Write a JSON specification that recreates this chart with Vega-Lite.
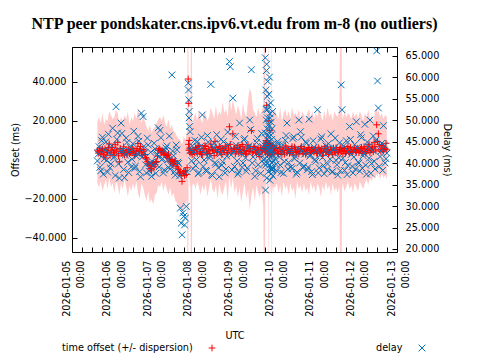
{
"$schema":"https://vega.github.io/schema/vega-lite/v6.json",
"width":325,"height":205,
"autosize":"none",
"padding":{"left":72,"top":47,"right":83,"bottom":108},
"background":"white",
"title":{"text":"NTP peer pondskater.cns.ipv6.vt.edu from m-8 (no outliers)","font":"Liberation Serif","fontSize":16,"fontWeight":"bold","color":"black","anchor":"middle","offset":15},
"config":{
 "view":{"stroke":"black","strokeWidth":1},
 "axis":{"labelFont":"DejaVu Sans","labelFontSize":9.7,"labelColor":"black","titleFont":"DejaVu Sans","titleFontSize":9.7,"titleFontWeight":"normal","titleColor":"black","tickColor":"black","tickSize":-5,"domain":false,"grid":false},
 "legend":{"titleFont":"DejaVu Sans","titleFontSize":9.7,"titleFontWeight":"normal","titleColor":"black","padding":0}
},
"data":{"values":[
{"t":"2026-01-05T15:00","o":5.0,"lo":-12,"hi":20,"d":40.5},
{"t":"2026-01-05T16:00","o":4.2,"lo":-14,"hi":22,"d":43.8},
{"t":"2026-01-05T17:00","o":3.1,"lo":-11,"hi":19,"d":38.2},
{"t":"2026-01-05T18:00","o":5.5,"lo":-16,"hi":24,"d":46.0},
{"t":"2026-01-05T19:00","o":2.0,"lo":-13,"hi":18,"d":41.0},
{"t":"2026-01-05T20:00","o":1.0,"lo":-10,"hi":21,"d":44.9},
{"t":"2026-01-05T21:00","o":3.8,"lo":-15,"hi":20,"d":37.9},
{"t":"2026-01-05T22:00","o":8.2,"lo":-9,"hi":25,"d":42.3},
{"t":"2026-01-05T23:00","o":4.6,"lo":-14,"hi":23,"d":39.8},
{"t":"2026-01-06T00:00","o":6.5,"lo":-12,"hi":21,"d":48.1},
{"t":"2026-01-06T01:00","o":3.0,"lo":-17,"hi":22,"d":41.5},
{"t":"2026-01-06T02:00","o":5.2,"lo":-11,"hi":26,"d":53.1},
{"t":"2026-01-06T03:00","o":9.0,"lo":-13,"hi":24,"d":47.0},
{"t":"2026-01-06T04:00","o":-1.0,"lo":-18,"hi":19,"d":36.5},
{"t":"2026-01-06T05:00","o":4.4,"lo":-12,"hi":22,"d":49.3},
{"t":"2026-01-06T06:00","o":3.9,"lo":-15,"hi":20,"d":43.0},
{"t":"2026-01-06T07:00","o":2.5,"lo":-10,"hi":23,"d":36.6},
{"t":"2026-01-06T08:00","o":4.8,"lo":-14,"hi":21,"d":45.8},
{"t":"2026-01-06T09:00","o":5.1,"lo":-19,"hi":25,"d":40.2},
{"t":"2026-01-06T10:00","o":3.3,"lo":-13,"hi":18,"d":42.7},
{"t":"2026-01-06T11:00","o":4.0,"lo":-16,"hi":22,"d":39.1},
{"t":"2026-01-06T12:00","o":5.6,"lo":-12,"hi":20,"d":44.5},
{"t":"2026-01-06T13:00","o":2.2,"lo":-15,"hi":24,"d":38.8},
{"t":"2026-01-06T14:00","o":4.7,"lo":-11,"hi":21,"d":41.6},
{"t":"2026-01-06T15:00","o":8.4,"lo":-17,"hi":27,"d":46.2},
{"t":"2026-01-06T16:00","o":4.9,"lo":-20,"hi":22,"d":38.0},
{"t":"2026-01-06T17:00","o":3.6,"lo":-12,"hi":19,"d":51.6},
{"t":"2026-01-06T18:00","o":5.3,"lo":-14,"hi":23,"d":50.8},
{"t":"2026-01-06T19:00","o":2.8,"lo":-18,"hi":20,"d":42.4},
{"t":"2026-01-06T20:00","o":0.5,"lo":-21,"hi":17,"d":37.7},
{"t":"2026-01-06T21:00","o":-1.7,"lo":-16,"hi":15,"d":44.2},
{"t":"2026-01-06T22:00","o":-3.0,"lo":-22,"hi":18,"d":40.0},
{"t":"2026-01-06T23:00","o":-5.1,"lo":-20,"hi":14,"d":36.9},
{"t":"2026-01-07T00:00","o":-1.5,"lo":-23,"hi":16,"d":39.5},
{"t":"2026-01-07T01:00","o":-2.3,"lo":-18,"hi":17,"d":43.3},
{"t":"2026-01-07T02:00","o":-0.8,"lo":-17,"hi":19,"d":41.8},
{"t":"2026-01-07T03:00","o":4.9,"lo":-13,"hi":21,"d":48.2},
{"t":"2026-01-07T04:00","o":5.2,"lo":-14,"hi":22,"d":47.6},
{"t":"2026-01-07T05:00","o":3.6,"lo":-11,"hi":20,"d":40.8},
{"t":"2026-01-07T06:00","o":4.1,"lo":-16,"hi":23,"d":37.7},
{"t":"2026-01-07T07:00","o":2.7,"lo":-12,"hi":19,"d":42.9},
{"t":"2026-01-07T08:00","o":1.5,"lo":-15,"hi":17,"d":44.0},
{"t":"2026-01-07T09:00","o":3.0,"lo":-18,"hi":21,"d":39.0},
{"t":"2026-01-07T10:00","o":-0.6,"lo":-14,"hi":16,"d":38.6},
{"t":"2026-01-07T11:00","o":0.2,"lo":-19,"hi":18,"d":60.5},
{"t":"2026-01-07T12:00","o":-1.7,"lo":-17,"hi":15,"d":41.7},
{"t":"2026-01-07T13:00","o":-0.4,"lo":-21,"hi":14,"d":37.2},
{"t":"2026-01-07T14:00","o":-2.0,"lo":-22,"hi":12,"d":43.1},
{"t":"2026-01-07T15:00","o":-5.0,"lo":-25,"hi":11,"d":39.9},
{"t":"2026-01-07T16:00","o":-6.2,"lo":-24,"hi":10,"d":29.5},
{"t":"2026-01-07T17:00","o":-11.0,"lo":-28,"hi":8,"d":23.3},
{"t":"2026-01-07T17:30","o":-7.0,"lo":-26,"hi":9,"d":28.4},
{"t":"2026-01-07T18:00","o":-6.0,"lo":-24,"hi":12,"d":27.6},
{"t":"2026-01-07T18:30","o":-8.0,"lo":-25,"hi":11,"d":25.6},
{"t":"2026-01-07T19:00","o":-5.5,"lo":-22,"hi":10,"d":27.2},
{"t":"2026-01-07T19:30","o":-7.5,"lo":-23,"hi":13,"d":29.9},
{"t":"2026-01-07T20:00","o":-4.0,"lo":-20,"hi":15,"d":38.0},
{"t":"2026-01-07T20:40","o":41.5,"lo":-150,"hi":150,"d":58.6},
{"t":"2026-01-07T20:50","o":8.0,"lo":-10,"hi":26,"d":57.0},
{"t":"2026-01-07T21:00","o":29.0,"lo":12,"hi":46,"d":54.7},
{"t":"2026-01-07T21:05","o":5.0,"lo":-14,"hi":22,"d":50.5},
{"t":"2026-01-07T21:15","o":10.0,"lo":-8,"hi":27,"d":52.0},
{"t":"2026-01-07T21:30","o":6.0,"lo":-12,"hi":22,"d":48.5},
{"t":"2026-01-07T21:45","o":3.5,"lo":-15,"hi":20,"d":47.3},
{"t":"2026-01-07T22:00","o":5.0,"lo":-13,"hi":23,"d":43.0},
{"t":"2026-01-07T22:40","o":4.0,"lo":-150,"hi":150,"d":40.5},
{"t":"2026-01-07T23:00","o":2.8,"lo":-13,"hi":18,"d":44.0},
{"t":"2026-01-08T00:00","o":5.0,"lo":-12,"hi":22,"d":42.6},
{"t":"2026-01-08T01:00","o":6.2,"lo":-15,"hi":24,"d":39.4},
{"t":"2026-01-08T02:00","o":3.4,"lo":-11,"hi":20,"d":45.0},
{"t":"2026-01-08T03:00","o":7.5,"lo":-14,"hi":26,"d":37.8},
{"t":"2026-01-08T04:00","o":4.1,"lo":-18,"hi":21,"d":43.9},
{"t":"2026-01-08T05:00","o":2.6,"lo":-13,"hi":19,"d":51.2},
{"t":"2026-01-08T06:00","o":5.8,"lo":-16,"hi":25,"d":40.7},
{"t":"2026-01-08T07:00","o":6.9,"lo":-12,"hi":23,"d":38.3},
{"t":"2026-01-08T08:00","o":3.0,"lo":-19,"hi":20,"d":46.4},
{"t":"2026-01-08T09:00","o":4.6,"lo":-14,"hi":22,"d":41.1},
{"t":"2026-01-08T10:00","o":8.1,"lo":-10,"hi":27,"d":58.3},
{"t":"2026-01-08T11:00","o":5.3,"lo":-15,"hi":24,"d":37.1},
{"t":"2026-01-08T12:00","o":2.2,"lo":-17,"hi":21,"d":44.6},
{"t":"2026-01-08T13:00","o":6.4,"lo":-13,"hi":28,"d":39.7},
{"t":"2026-01-08T14:00","o":4.3,"lo":-20,"hi":22,"d":42.9},
{"t":"2026-01-08T15:00","o":7.0,"lo":-12,"hi":25,"d":36.8},
{"t":"2026-01-08T16:00","o":3.7,"lo":-16,"hi":23,"d":45.5},
{"t":"2026-01-08T17:00","o":5.9,"lo":-18,"hi":30,"d":40.3},
{"t":"2026-01-08T18:00","o":4.8,"lo":-14,"hi":24,"d":43.4},
{"t":"2026-01-08T19:00","o":6.6,"lo":-11,"hi":26,"d":38.6},
{"t":"2026-01-08T20:00","o":3.5,"lo":-21,"hi":22,"d":47.2},
{"t":"2026-01-08T21:00","o":17.0,"lo":-8,"hi":33,"d":63.6},
{"t":"2026-01-08T21:30","o":8.0,"lo":-12,"hi":29,"d":62.4},
{"t":"2026-01-08T22:00","o":5.2,"lo":-15,"hi":25,"d":41.9},
{"t":"2026-01-08T23:00","o":13.4,"lo":-9,"hi":31,"d":55.1},
{"t":"2026-01-09T00:00","o":6.0,"lo":-17,"hi":27,"d":39.2},
{"t":"2026-01-09T01:00","o":4.4,"lo":-13,"hi":23,"d":44.1},
{"t":"2026-01-09T02:00","o":7.3,"lo":-19,"hi":28,"d":37.4},
{"t":"2026-01-09T03:00","o":5.5,"lo":-14,"hi":25,"d":49.3},
{"t":"2026-01-09T04:00","o":3.2,"lo":-22,"hi":21,"d":42.2},
{"t":"2026-01-09T05:00","o":6.8,"lo":-16,"hi":29,"d":40.0},
{"t":"2026-01-09T06:00","o":4.9,"lo":-12,"hi":24,"d":45.7},
{"t":"2026-01-09T07:00","o":2.9,"lo":-20,"hi":22,"d":38.1},
{"t":"2026-01-09T08:00","o":7.7,"lo":-15,"hi":31,"d":43.6},
{"t":"2026-01-09T09:00","o":5.0,"lo":-26,"hi":37,"d":50.0},
{"t":"2026-01-09T10:00","o":15.0,"lo":-18,"hi":34,"d":61.7},
{"t":"2026-01-09T11:00","o":4.2,"lo":-14,"hi":26,"d":41.4},
{"t":"2026-01-09T12:00","o":6.3,"lo":-21,"hi":24,"d":36.9},
{"t":"2026-01-09T13:00","o":3.6,"lo":-13,"hi":22,"d":44.8},
{"t":"2026-01-09T14:00","o":5.7,"lo":-17,"hi":27,"d":39.6},
{"t":"2026-01-09T15:00","o":1.7,"lo":-19,"hi":23,"d":42.5},
{"t":"2026-01-09T16:00","o":5.1,"lo":-15,"hi":25,"d":46.9},
{"t":"2026-01-09T17:00","o":6.0,"lo":-24,"hi":28,"d":40.8},
{"t":"2026-01-09T18:00","o":5.0,"lo":-150,"hi":150,"d":44.0},
{"t":"2026-01-09T18:10","o":7.0,"lo":-13,"hi":26,"d":64.5},
{"t":"2026-01-09T18:20","o":4.0,"lo":-16,"hi":24,"d":33.7},
{"t":"2026-01-09T18:30","o":8.5,"lo":-12,"hi":27,"d":57.0},
{"t":"2026-01-09T18:40","o":6.0,"lo":-18,"hi":25,"d":52.5},
{"t":"2026-01-09T18:50","o":10.0,"lo":-10,"hi":30,"d":61.5},
{"t":"2026-01-09T19:00","o":28.0,"lo":5,"hi":50,"d":63.0},
{"t":"2026-01-09T19:10","o":9.0,"lo":-12,"hi":28,"d":48.0},
{"t":"2026-01-09T19:20","o":5.5,"lo":-15,"hi":25,"d":55.5},
{"t":"2026-01-09T19:30","o":3.0,"lo":-20,"hi":23,"d":50.5},
{"t":"2026-01-09T19:40","o":6.5,"lo":-14,"hi":26,"d":59.0},
{"t":"2026-01-09T19:50","o":7.5,"lo":-13,"hi":27,"d":46.5},
{"t":"2026-01-09T20:00","o":4.5,"lo":-150,"hi":150,"d":53.5},
{"t":"2026-01-09T20:10","o":5.0,"lo":-17,"hi":24,"d":49.0},
{"t":"2026-01-09T20:20","o":20.0,"lo":-2,"hi":40,"d":56.0},
{"t":"2026-01-09T20:30","o":6.0,"lo":-15,"hi":26,"d":45.0},
{"t":"2026-01-09T20:40","o":3.5,"lo":-19,"hi":22,"d":60.0},
{"t":"2026-01-09T20:50","o":15.0,"lo":-6,"hi":34,"d":51.5},
{"t":"2026-01-09T21:00","o":8.0,"lo":-12,"hi":28,"d":43.0},
{"t":"2026-01-09T21:10","o":5.5,"lo":-16,"hi":25,"d":47.5},
{"t":"2026-01-09T21:20","o":4.0,"lo":-18,"hi":24,"d":54.0},
{"t":"2026-01-09T21:30","o":7.0,"lo":-13,"hi":26,"d":41.5},
{"t":"2026-01-09T21:40","o":6.0,"lo":-15,"hi":25,"d":49.5},
{"t":"2026-01-09T21:50","o":2.5,"lo":-20,"hi":22,"d":38.5},
{"t":"2026-01-09T22:00","o":5.0,"lo":-150,"hi":150,"d":45.5},
{"t":"2026-01-09T22:10","o":6.5,"lo":-14,"hi":27,"d":42.0},
{"t":"2026-01-09T22:20","o":4.5,"lo":-17,"hi":23,"d":39.0},
{"t":"2026-01-09T22:30","o":7.5,"lo":-13,"hi":28,"d":52.0},
{"t":"2026-01-09T22:40","o":5.5,"lo":-16,"hi":25,"d":37.0},
{"t":"2026-01-09T22:50","o":3.0,"lo":-19,"hi":22,"d":44.5},
{"t":"2026-01-09T23:00","o":6.0,"lo":-14,"hi":26,"d":40.5},
{"t":"2026-01-10T00:00","o":4.0,"lo":-14,"hi":25,"d":41.0},
{"t":"2026-01-10T01:00","o":6.2,"lo":-12,"hi":23,"d":38.2},
{"t":"2026-01-10T02:00","o":3.3,"lo":-17,"hi":21,"d":44.4},
{"t":"2026-01-10T03:00","o":5.6,"lo":-13,"hi":27,"d":39.5},
{"t":"2026-01-10T04:00","o":2.8,"lo":-19,"hi":20,"d":42.7},
{"t":"2026-01-10T05:00","o":4.9,"lo":-11,"hi":24,"d":37.6},
{"t":"2026-01-10T06:00","o":7.2,"lo":-15,"hi":26,"d":45.3},
{"t":"2026-01-10T07:00","o":3.7,"lo":-13,"hi":22,"d":49.3},
{"t":"2026-01-10T08:00","o":5.4,"lo":-18,"hi":25,"d":40.1},
{"t":"2026-01-10T09:00","o":4.1,"lo":-12,"hi":21,"d":43.2},
{"t":"2026-01-10T10:00","o":6.8,"lo":-16,"hi":27,"d":38.7},
{"t":"2026-01-10T11:00","o":2.6,"lo":-14,"hi":23,"d":46.1},
{"t":"2026-01-10T12:00","o":5.0,"lo":-20,"hi":24,"d":41.6},
{"t":"2026-01-10T13:00","o":4.5,"lo":-11,"hi":22,"d":37.9},
{"t":"2026-01-10T14:00","o":3.1,"lo":-15,"hi":26,"d":50.0},
{"t":"2026-01-10T15:00","o":6.0,"lo":-13,"hi":21,"d":47.3},
{"t":"2026-01-10T16:00","o":4.3,"lo":-17,"hi":25,"d":42.8},
{"t":"2026-01-10T17:00","o":5.7,"lo":-12,"hi":23,"d":39.3},
{"t":"2026-01-10T18:00","o":2.9,"lo":-16,"hi":20,"d":44.9},
{"t":"2026-01-10T19:00","o":4.8,"lo":-14,"hi":24,"d":38.4},
{"t":"2026-01-10T20:00","o":6.4,"lo":-18,"hi":26,"d":50.2},
{"t":"2026-01-10T21:00","o":3.5,"lo":-11,"hi":22,"d":41.9},
{"t":"2026-01-10T22:00","o":5.2,"lo":-15,"hi":25,"d":37.3},
{"t":"2026-01-10T23:00","o":4.0,"lo":-13,"hi":21,"d":43.7},
{"t":"2026-01-11T00:00","o":6.1,"lo":-17,"hi":24,"d":40.4},
{"t":"2026-01-11T01:00","o":3.4,"lo":-12,"hi":22,"d":52.4},
{"t":"2026-01-11T02:00","o":5.5,"lo":-14,"hi":26,"d":38.9},
{"t":"2026-01-11T03:00","o":4.7,"lo":-19,"hi":23,"d":45.6},
{"t":"2026-01-11T04:00","o":2.4,"lo":-13,"hi":20,"d":41.3},
{"t":"2026-01-11T05:00","o":5.9,"lo":-16,"hi":25,"d":37.5},
{"t":"2026-01-11T06:00","o":4.2,"lo":-11,"hi":21,"d":44.0},
{"t":"2026-01-11T07:00","o":6.6,"lo":-15,"hi":27,"d":39.8},
{"t":"2026-01-11T08:00","o":3.8,"lo":-13,"hi":22,"d":42.4},
{"t":"2026-01-11T09:00","o":5.1,"lo":-18,"hi":24,"d":46.8},
{"t":"2026-01-11T10:00","o":2.7,"lo":-12,"hi":20,"d":38.0},
{"t":"2026-01-11T11:00","o":4.6,"lo":-16,"hi":25,"d":43.5},
{"t":"2026-01-11T12:00","o":6.3,"lo":-14,"hi":23,"d":40.6},
{"t":"2026-01-11T13:00","o":3.9,"lo":-17,"hi":22,"d":37.2},
{"t":"2026-01-11T14:00","o":5.3,"lo":-13,"hi":26,"d":44.7},
{"t":"2026-01-11T15:00","o":4.4,"lo":-150,"hi":150,"d":58.2},
{"t":"2026-01-11T15:30","o":5.8,"lo":-15,"hi":24,"d":52.4},
{"t":"2026-01-11T16:00","o":3.2,"lo":-12,"hi":21,"d":41.1},
{"t":"2026-01-11T17:00","o":5.6,"lo":-16,"hi":25,"d":38.3},
{"t":"2026-01-11T18:00","o":4.1,"lo":-14,"hi":22,"d":45.2},
{"t":"2026-01-11T19:00","o":6.9,"lo":-11,"hi":24,"d":39.4},
{"t":"2026-01-11T20:00","o":3.6,"lo":-15,"hi":23,"d":48.5},
{"t":"2026-01-11T21:00","o":5.0,"lo":-13,"hi":21,"d":42.0},
{"t":"2026-01-11T22:00","o":4.3,"lo":-17,"hi":25,"d":37.7},
{"t":"2026-01-11T23:00","o":6.2,"lo":-12,"hi":22,"d":44.3},
{"t":"2026-01-12T00:00","o":3.9,"lo":-14,"hi":24,"d":49.6},
{"t":"2026-01-12T01:00","o":5.4,"lo":-16,"hi":21,"d":40.2},
{"t":"2026-01-12T02:00","o":4.7,"lo":-11,"hi":25,"d":38.1},
{"t":"2026-01-12T03:00","o":6.5,"lo":-13,"hi":23,"d":45.9},
{"t":"2026-01-12T04:00","o":3.3,"lo":-15,"hi":20,"d":41.7},
{"t":"2026-01-12T05:00","o":5.8,"lo":-12,"hi":24,"d":49.0},
{"t":"2026-01-12T06:00","o":4.5,"lo":-10,"hi":22,"d":37.4},
{"t":"2026-01-12T07:00","o":7.0,"lo":-13,"hi":26,"d":43.8},
{"t":"2026-01-12T08:00","o":3.8,"lo":-9,"hi":21,"d":50.0},
{"t":"2026-01-12T09:00","o":5.6,"lo":-11,"hi":23,"d":39.9},
{"t":"2026-01-12T10:00","o":4.2,"lo":-8,"hi":20,"d":46.3},
{"t":"2026-01-12T11:00","o":6.8,"lo":-10,"hi":25,"d":38.6},
{"t":"2026-01-12T12:00","o":18.0,"lo":-7,"hi":27,"d":66.1},
{"t":"2026-01-12T12:30","o":9.4,"lo":-9,"hi":24,"d":59.1},
{"t":"2026-01-12T13:00","o":13.4,"lo":-6,"hi":26,"d":52.8},
{"t":"2026-01-12T14:00","o":5.3,"lo":-10,"hi":22,"d":41.5},
{"t":"2026-01-12T15:00","o":7.4,"lo":-7,"hi":24,"d":44.6},
{"t":"2026-01-12T16:00","o":4.6,"lo":-9,"hi":21,"d":48.7},
{"t":"2026-01-12T17:00","o":6.0,"lo":-8,"hi":23,"d":40.0},
{"t":"2026-01-12T18:00","o":5.2,"lo":-10,"hi":22,"d":42.3},
{"t":"2026-01-05T15:30","o":3.5,"d":42.1},{"t":"2026-01-05T16:30","o":6.0,"d":39.0},{"t":"2026-01-05T17:30","o":4.8,"d":45.2},{"t":"2026-01-05T18:30","o":2.9,"d":37.4},{"t":"2026-01-05T19:30","o":5.7,"d":43.1},{"t":"2026-01-05T20:30","o":4.1,"d":40.6},{"t":"2026-01-05T21:30","o":6.3,"d":46.7},{"t":"2026-01-05T22:30","o":2.4,"d":38.9},{"t":"2026-01-05T23:30","o":5.0,"d":44.0},
{"t":"2026-01-06T00:30","o":3.7,"d":41.2},{"t":"2026-01-06T01:30","o":7.8,"d":37.1},{"t":"2026-01-06T02:30","o":4.5,"d":45.5},{"t":"2026-01-06T03:30","o":2.1,"d":39.8},{"t":"2026-01-06T04:30","o":5.9,"d":42.9},{"t":"2026-01-06T05:30","o":3.2,"d":46.9},{"t":"2026-01-06T06:30","o":6.7,"d":38.5},{"t":"2026-01-06T07:30","o":4.0,"d":41.9},{"t":"2026-01-06T08:30","o":2.6,"d":44.8},{"t":"2026-01-06T09:30","o":5.3,"d":37.8},{"t":"2026-01-06T10:30","o":3.9,"d":43.6},{"t":"2026-01-06T11:30","o":6.1,"d":40.9},{"t":"2026-01-06T12:30","o":4.4,"d":47.4},{"t":"2026-01-06T13:30","o":3.0,"d":39.3},{"t":"2026-01-06T14:30","o":5.8,"d":42.2},{"t":"2026-01-06T15:30","o":4.2,"d":45.1},{"t":"2026-01-06T16:30","o":6.9,"d":36.8},{"t":"2026-01-06T17:30","o":2.3,"d":41.4},{"t":"2026-01-06T18:30","o":4.6,"d":43.9},{"t":"2026-01-06T19:30","o":1.2,"d":39.6},{"t":"2026-01-06T20:30","o":-0.9,"d":45.8},{"t":"2026-01-06T21:30","o":-2.6,"d":38.1},{"t":"2026-01-06T22:30","o":-4.4,"d":42.5},{"t":"2026-01-06T23:30","o":-2.0,"d":40.3},
{"t":"2026-01-07T00:30","o":-3.5,"d":44.6},{"t":"2026-01-07T01:30","o":-1.2,"d":37.6},{"t":"2026-01-07T02:30","o":2.0,"d":42.0},{"t":"2026-01-07T03:30","o":5.8,"d":39.1},{"t":"2026-01-07T04:30","o":3.9,"d":45.9},{"t":"2026-01-07T05:30","o":4.6,"d":41.0},{"t":"2026-01-07T06:30","o":3.1,"d":38.4},{"t":"2026-01-07T07:30","o":2.2,"d":43.5},{"t":"2026-01-07T08:30","o":2.4,"d":40.7},{"t":"2026-01-07T09:30","o":0.8,"d":46.3},{"t":"2026-01-07T10:30","o":-1.1,"d":39.4},{"t":"2026-01-07T11:30","o":-2.5,"d":42.8},{"t":"2026-01-07T12:30","o":-0.9,"d":38.0},{"t":"2026-01-07T13:30","o":-3.2,"d":44.2},{"t":"2026-01-07T14:30","o":-4.2,"d":40.2},{"t":"2026-01-07T15:30","o":-6.8,"d":37.0},{"t":"2026-01-07T16:30","o":-8.0,"d":26.0},
{"t":"2026-01-07T23:30","o":4.7,"d":38.7},
{"t":"2026-01-08T00:30","o":3.6,"d":45.3},{"t":"2026-01-08T01:30","o":5.5,"d":40.8},{"t":"2026-01-08T02:30","o":6.8,"d":37.5},{"t":"2026-01-08T03:30","o":4.2,"d":43.1},{"t":"2026-01-08T04:30","o":2.9,"d":46.0},{"t":"2026-01-08T05:30","o":5.1,"d":39.2},{"t":"2026-01-08T06:30","o":7.3,"d":42.4},{"t":"2026-01-08T07:30","o":4.0,"d":38.1},{"t":"2026-01-08T08:30","o":5.6,"d":44.9},{"t":"2026-01-08T09:30","o":3.3,"d":41.7},{"t":"2026-01-08T10:30","o":6.5,"d":37.3},{"t":"2026-01-08T11:30","o":4.8,"d":43.7},{"t":"2026-01-08T12:30","o":9.5,"d":40.1},{"t":"2026-01-08T13:30","o":3.9,"d":46.6},{"t":"2026-01-08T14:30","o":5.4,"d":38.9},{"t":"2026-01-08T15:30","o":6.2,"d":42.1},{"t":"2026-01-08T16:30","o":2.7,"d":39.5},{"t":"2026-01-08T17:30","o":5.0,"d":45.0},{"t":"2026-01-08T18:30","o":7.1,"d":37.7},{"t":"2026-01-08T19:30","o":3.8,"d":41.6},{"t":"2026-01-08T20:30","o":6.0,"d":44.3},{"t":"2026-01-08T22:30","o":4.5,"d":38.4},{"t":"2026-01-08T23:30","o":5.7,"d":42.7},
{"t":"2026-01-09T00:30","o":3.1,"d":46.2},{"t":"2026-01-09T01:30","o":6.4,"d":40.5},{"t":"2026-01-09T02:30","o":4.0,"d":37.9},{"t":"2026-01-09T03:30","o":5.3,"d":43.0},{"t":"2026-01-09T04:30","o":7.9,"d":39.0},{"t":"2026-01-09T05:30","o":4.6,"d":45.4},{"t":"2026-01-09T06:30","o":3.4,"d":41.2},{"t":"2026-01-09T07:30","o":6.1,"d":38.8},{"t":"2026-01-09T08:30","o":4.3,"d":44.0},{"t":"2026-01-09T09:30","o":5.8,"d":47.8},{"t":"2026-01-09T10:30","o":3.6,"d":40.0},{"t":"2026-01-09T11:30","o":6.9,"d":43.3},{"t":"2026-01-09T12:30","o":4.1,"d":38.2},{"t":"2026-01-09T13:30","o":5.2,"d":45.7},{"t":"2026-01-09T14:30","o":2.8,"d":41.9},{"t":"2026-01-09T15:30","o":6.3,"d":37.6},{"t":"2026-01-09T16:30","o":4.7,"d":43.8},{"t":"2026-01-09T17:30","o":5.9,"d":39.9},
{"t":"2026-01-09T18:05","o":6.0,"d":41.0},{"t":"2026-01-09T18:15","o":5.0,"d":47.0},{"t":"2026-01-09T18:25","o":7.0,"d":39.5},{"t":"2026-01-09T18:35","o":4.5,"d":44.5},{"t":"2026-01-09T18:45","o":8.0,"d":50.0},{"t":"2026-01-09T18:55","o":6.0,"d":42.5},{"t":"2026-01-09T19:05","o":5.0,"d":36.5},{"t":"2026-01-09T19:15","o":7.5,"d":45.5},{"t":"2026-01-09T19:25","o":4.0,"d":40.0},{"t":"2026-01-09T19:35","o":6.5,"d":52.5},{"t":"2026-01-09T19:45","o":9.0,"d":43.5},{"t":"2026-01-09T19:55","o":5.5,"d":38.0},{"t":"2026-01-09T20:05","o":3.5,"d":46.0},{"t":"2026-01-09T20:15","o":7.0,"d":41.0},{"t":"2026-01-09T20:25","o":5.0,"d":48.5},{"t":"2026-01-09T20:35","o":6.0,"d":39.5},{"t":"2026-01-09T20:45","o":8.5,"d":44.0},{"t":"2026-01-09T20:55","o":4.0,"d":36.0},{"t":"2026-01-09T21:05","o":6.5,"d":50.5},{"t":"2026-01-09T21:15","o":5.0,"d":42.5},{"t":"2026-01-09T21:25","o":7.5,"d":39.0},{"t":"2026-01-09T21:35","o":4.5,"d":46.5},{"t":"2026-01-09T21:45","o":6.0,"d":37.5},{"t":"2026-01-09T21:55","o":5.5,"d":43.0},{"t":"2026-01-09T22:05","o":7.0,"d":40.0},{"t":"2026-01-09T22:15","o":4.0,"d":48.0},{"t":"2026-01-09T22:25","o":6.5,"d":38.5},{"t":"2026-01-09T22:35","o":5.0,"d":42.0},
{"t":"2026-01-09T23:30","o":4.9,"d":43.9},
{"t":"2026-01-10T00:30","o":5.8,"d":39.7},{"t":"2026-01-10T01:30","o":3.6,"d":45.0},{"t":"2026-01-10T02:30","o":6.5,"d":41.4},{"t":"2026-01-10T03:30","o":4.3,"d":37.8},{"t":"2026-01-10T04:30","o":5.1,"d":44.2},{"t":"2026-01-10T05:30","o":3.0,"d":40.3},{"t":"2026-01-10T06:30","o":6.2,"d":46.4},{"t":"2026-01-10T07:30","o":4.7,"d":38.6},{"t":"2026-01-10T08:30","o":3.4,"d":42.5},{"t":"2026-01-10T09:30","o":5.9,"d":39.1},{"t":"2026-01-10T10:30","o":4.0,"d":45.7},{"t":"2026-01-10T11:30","o":6.6,"d":41.0},{"t":"2026-01-10T12:30","o":3.8,"d":37.4},{"t":"2026-01-10T13:30","o":5.5,"d":43.4},{"t":"2026-01-10T14:30","o":4.2,"d":40.0},{"t":"2026-01-10T15:30","o":6.9,"d":46.0},{"t":"2026-01-10T16:30","o":3.2,"d":38.9},{"t":"2026-01-10T17:30","o":5.3,"d":42.1},{"t":"2026-01-10T18:30","o":4.6,"d":44.6},{"t":"2026-01-10T19:30","o":6.0,"d":39.0},{"t":"2026-01-10T20:30","o":3.7,"d":41.6},{"t":"2026-01-10T21:30","o":5.6,"d":38.0},{"t":"2026-01-10T22:30","o":4.4,"d":45.2},{"t":"2026-01-10T23:30","o":5.0,"d":40.8},
{"t":"2026-01-11T00:30","o":3.5,"d":43.0},{"t":"2026-01-11T01:30","o":6.3,"d":37.7},{"t":"2026-01-11T02:30","o":4.1,"d":41.8},{"t":"2026-01-11T03:30","o":5.7,"d":46.1},{"t":"2026-01-11T04:30","o":3.9,"d":39.4},{"t":"2026-01-11T05:30","o":6.8,"d":42.9},{"t":"2026-01-11T06:30","o":4.5,"d":38.4},{"t":"2026-01-11T07:30","o":3.1,"d":44.5},{"t":"2026-01-11T08:30","o":5.4,"d":40.9},{"t":"2026-01-11T09:30","o":4.8,"d":37.9},{"t":"2026-01-11T10:30","o":6.1,"d":43.2},{"t":"2026-01-11T11:30","o":3.6,"d":45.8},{"t":"2026-01-11T12:30","o":5.2,"d":39.6},{"t":"2026-01-11T13:30","o":4.0,"d":41.3},{"t":"2026-01-11T14:30","o":6.4,"d":38.2},{"t":"2026-01-11T16:30","o":4.9,"d":44.0},{"t":"2026-01-11T17:30","o":3.3,"d":40.1},{"t":"2026-01-11T18:30","o":5.9,"d":37.3},{"t":"2026-01-11T19:30","o":4.2,"d":42.6},{"t":"2026-01-11T20:30","o":6.5,"d":45.5},{"t":"2026-01-11T21:30","o":3.8,"d":39.2},{"t":"2026-01-11T22:30","o":5.1,"d":41.4},{"t":"2026-01-11T23:30","o":4.6,"d":38.6},
{"t":"2026-01-12T00:30","o":6.0,"d":43.6},{"t":"2026-01-12T01:30","o":3.7,"d":40.0},{"t":"2026-01-12T02:30","o":5.5,"d":46.6},{"t":"2026-01-12T03:30","o":4.3,"d":38.8},{"t":"2026-01-12T04:30","o":6.7,"d":42.3},{"t":"2026-01-12T05:30","o":3.5,"d":39.5},{"t":"2026-01-12T06:30","o":5.2,"d":44.9},{"t":"2026-01-12T07:30","o":8.0,"d":41.1},{"t":"2026-01-12T08:30","o":4.9,"d":37.6},{"t":"2026-01-12T09:30","o":6.2,"d":43.0},{"t":"2026-01-12T10:30","o":9.0,"d":40.4},{"t":"2026-01-12T11:30","o":5.0,"d":45.3},{"t":"2026-01-12T13:30","o":7.8,"d":39.2},{"t":"2026-01-12T14:30","o":4.4,"d":42.8},{"t":"2026-01-12T15:30","o":6.6,"d":38.3},{"t":"2026-01-12T16:30","o":5.5,"d":44.1},{"t":"2026-01-12T17:30","o":8.5,"d":41.0}
]},
"layer":[
 {"transform":[{"filter":"isValid(datum.lo) && isValid(datum.hi)"}],
  "mark":{"type":"area","color":"#ff0000","opacity":0.2,"clip":true},
  "encoding":{
   "x":{"field":"t","type":"temporal",
        "scale":{"domain":[{"year":2026,"month":1,"date":5},{"year":2026,"month":1,"date":13}],"nice":false},
        "axis":{"orient":"bottom","tickCount":32,
                "labelExpr":"hours(datum.value)==0 ? timeFormat(datum.value,'%Y-%m-%d') : ''",
                "labelAngle":270,"labelAlign":"right","labelBaseline":"middle","labelOffset":-6,
                "labelOverlap":false,"labelBound":false,"labelFlush":false,"labelPadding":13,
                "title":"UTC","titlePadding":14}},
   "y":{"field":"lo","type":"quantitative",
        "scale":{"domain":[-47.2,57.9],"nice":false,"zero":false},
        "axis":{"orient":"left","values":[-40,-20,0,20,40],"format":".3f","labelPadding":11,"title":"Offset (ms)","titlePadding":3}},
   "y2":{"field":"hi"}
  }},
 {"mark":{"type":"point","shape":"M-1,0L1,0M0,-1L0,1","filled":false,"strokeWidth":1,"size":45,"opacity":1,"clip":true},
  "encoding":{
   "x":{"field":"t","type":"temporal",
        "axis":{"orient":"top","tickCount":32,"labels":false,"title":null}},
   "y":{"field":"o","type":"quantitative","scale":{"domain":[-47.2,57.9],"nice":false,"zero":false},"axis":null},
   "stroke":{"datum":"offset","scale":{"range":["#ff0000"]},
             "legend":{"orient":"none","legendX":-10,"legendY":296,"title":"time offset (+/- dispersion)","titleOrient":"left","titlePadding":14,
                       "labelExpr":"''","symbolType":"M-1,0L1,0M0,-1L0,1","symbolSize":45,"symbolStrokeWidth":1}}
  }},
 {"mark":{"type":"point","shape":"M-1,-1L1,1M1,-1L-1,1","filled":false,"strokeWidth":1,"size":45,"opacity":1,"clip":true},
  "encoding":{
   "x":{"field":"t","type":"temporal",
        "axis":{"orient":"bottom","tickCount":32,"ticks":false,
                "labelExpr":"hours(datum.value)==0 ? timeFormat(datum.value,'%H:%M') : ''",
                "labelAngle":270,"labelAlign":"right","labelBaseline":"middle","labelOffset":8.5,
                "labelOverlap":false,"labelBound":false,"labelFlush":false,"labelPadding":8,"title":null}},
   "y":{"field":"d","type":"quantitative","scale":{"domain":[19.3,67.0],"nice":false,"zero":false},
        "axis":{"orient":"right","values":[20,25,30,35,40,45,50,55,60,65],"format":".3f","labelPadding":13,"title":"Delay (ms)","titlePadding":3}},
   "stroke":{"datum":"delay","scale":{"range":["#0072bd"]},
             "legend":{"orient":"none","legendX":304,"legendY":296,"title":"delay","titleOrient":"left","titlePadding":14,
                       "labelExpr":"''","symbolType":"M-1,-1L1,1M1,-1L-1,1","symbolSize":45,"symbolStrokeWidth":1}}
  }}
],
"resolve":{"scale":{"y":"independent","stroke":"independent"},"axis":{"x":"independent","y":"independent"},"legend":{"stroke":"independent"}}
}
